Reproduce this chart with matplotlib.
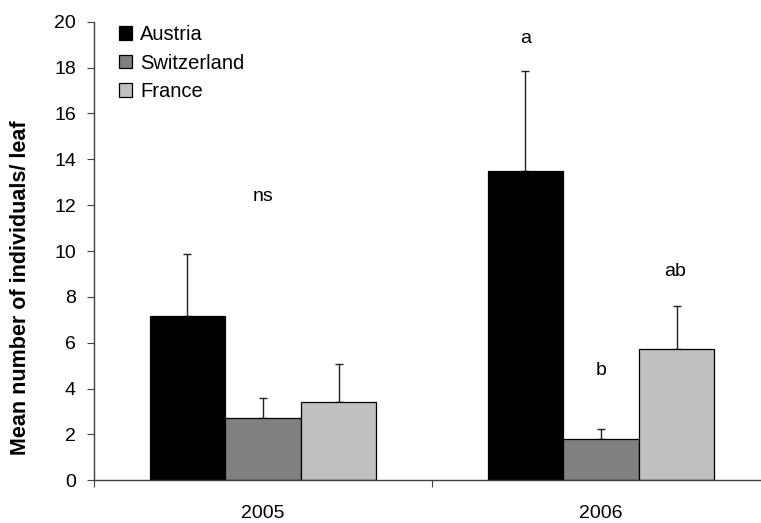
import matplotlib
matplotlib.use("Agg")
import matplotlib.pyplot as plt
import numpy as np

plt.rcParams['font.family'] = ['Liberation Sans', 'DejaVu Sans']

years = ["2005", "2006"]
countries = ["Austria", "Switzerland", "France"]
colors = ["#000000", "#808080", "#c0c0c0"]
means = {"Austria": [7.15, 13.5],
         "Switzerland": [2.72, 1.8],
         "France": [3.43, 5.73]}
errors = {"Austria": [2.7, 4.35],
          "Switzerland": [0.88, 0.42],
          "France": [1.65, 1.88]}
letters = ["ns", "a", "b", "ab"]
letter_x = [0.5, 1.277, 1.5, 1.719]
letter_y = [12.37, 19.27, 4.79, 9.11]

fig = plt.figure(figsize=(7.61, 5.23), dpi=100)
ax = fig.add_axes([0.1235, 0.0816, 0.8883, 0.8769])

# three bars per year, error bars drawn upward only
width = 0.2237
centers = np.arange(len(years)) + 0.5
axis_col = "#404040"
for i, c in enumerate(countries):
    x = centers + (i - 1) * width
    ax.bar(x, means[c], width=width, color=colors[i], edgecolor="#000000",
           linewidth=0.9, label=c, zorder=2)
    ax.errorbar(x, means[c], yerr=[np.zeros(len(years)), errors[c]],
                fmt='none', ecolor="#222222", elinewidth=1.0, capsize=3.2,
                capthick=1.0, zorder=1)

for t, xx, yy in zip(letters, letter_x, letter_y):
    ax.text(xx, yy, t, ha='center', va='center', fontsize=14)

ax.set_xlim(0, 2)
ax.set_ylim(0, 20)
ax.set_yticks(np.arange(0, 21, 2))
ax.set_xticks([0, 1, 2])
ax.set_xticklabels([])
ax.set_xticks(centers, minor=True)
ax.set_xticklabels(years, minor=True)
ax.tick_params(axis='x', which='major', direction='out', length=5,
               color=axis_col)
ax.tick_params(axis='x', which='minor', length=0, pad=18, labelsize=14)
ax.tick_params(axis='y', direction='out', length=5, pad=8, labelsize=14,
               color=axis_col)
for s in ['top', 'right']:
    ax.spines[s].set_visible(False)
for s in ['left', 'bottom']:
    ax.spines[s].set_color(axis_col)
    ax.spines[s].set_linewidth(1.0)

ax.set_ylabel("Mean number of individuals/ leaf", fontweight='bold',
              fontsize=15.5, va='center')
ax.yaxis.set_label_coords(-0.108, 0.42)

ax.legend(loc='upper left', bbox_to_anchor=(0.037, 0.993), frameon=False,
          fontsize=14.5, handlelength=0.65, handleheight=0.65,
          handletextpad=0.4, labelspacing=0.48, borderaxespad=0,
          borderpad=0)

fig.savefig("out.png", dpi=100)
